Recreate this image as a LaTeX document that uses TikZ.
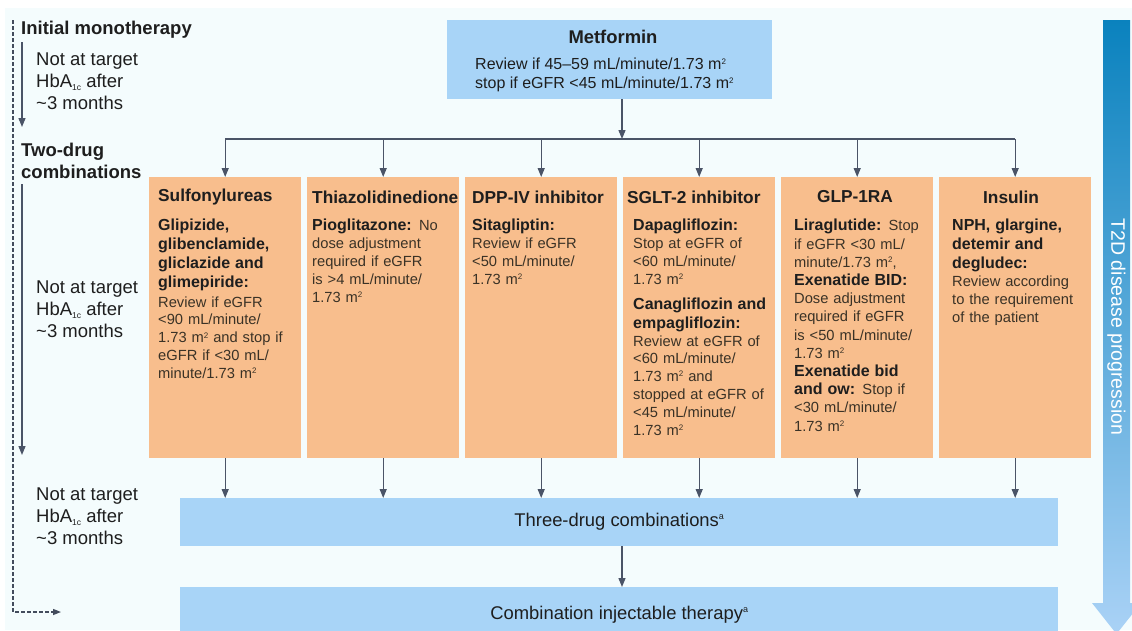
\documentclass[tikz,border=0pt]{standalone}
\usepackage{fontspec}
\setmainfont{Liberation Sans}
\usetikzlibrary{arrows.meta}

\definecolor{bgcyan}{HTML}{F4FCFD}
\definecolor{boxblue}{HTML}{A8D4F7}
\definecolor{drugpeach}{HTML}{F8BE8D}
\definecolor{flowgray}{HTML}{4A5467}
\definecolor{progtop}{HTML}{0A82BE}
\definecolor{progbot}{HTML}{AAD2F6}
\definecolor{inkdark}{HTML}{1E1E1E}
\definecolor{inkbody}{HTML}{3A3226}

\newcommand{\sqm}{m\raisebox{0.6ex}{\fontsize{8}{8}\selectfont 2}}
\newcommand{\hba}{HbA\raisebox{-0.3ex}{\fontsize{8.5}{8.5}\selectfont 1c}}
\newcommand{\supa}{\raisebox{0.75ex}{\fontsize{9}{9}\selectfont a}}
\newcommand{\subbf}{\fontsize{16}{19}\selectfont\bfseries\color{inkdark}}

\begin{document}
\begin{tikzpicture}[x=1pt, y=-1pt,
    drugbox/.style={fill=drugpeach, minimum width=152pt, minimum height=281pt, inner sep=0pt, anchor=north west},
    bluebox/.style={fill=boxblue, inner sep=0pt, anchor=north west, text=inkdark, font=\fontsize{18.4}{22}\selectfont},
    flowline/.style={draw=flowgray, line width=1.3pt},
    flow/.style={flowline, -{Triangle[length=9pt, width=7pt]}},
    drughead/.style={anchor=west, inner sep=0pt, text=inkdark, font=\fontsize{17.3}{20}\selectfont\bfseries},
    drugtext/.style={anchor=north west, inner sep=0pt, text width=150pt, align=left, text=inkbody, font=\fontsize{14.7}{17.8}\selectfont},
    stagetext/.style={anchor=north west, inner sep=0pt, align=left, text=inkdark, font=\fontsize{18.5}{22}\selectfont},
    stagehead/.style={stagetext, font=\fontsize{18.5}{22}\selectfont\bfseries}
]
\useasboundingbox (0,0) rectangle (1132,630);

% --- Fondo ---
\fill[bgcyan] (5,8) rectangle (1132,630);

% --- Columna izquierda (etapas) ---
\node[stagehead] (mono) at (21,21) {Initial monotherapy};
\node[stagetext] (wait1) at (36,53) {Not at target\\ \hba{} after\\ \textasciitilde3 months};
\node[stagehead] (two) at (21,143) {Two-drug\\ combinations};
\node[stagetext] (wait2) at (36,281) {Not at target\\ \hba{} after\\ \textasciitilde3 months};
\node[stagetext] (wait3) at (36,488) {Not at target\\ \hba{} after\\ \textasciitilde3 months};

\coordinate (s1a) at (22,42);
\coordinate (s1b) at (22,127);
\coordinate (s2a) at (22,184);
\coordinate (s2b) at (22,455);
\draw[flow] (s1a) -- (s1b);
\draw[flow] (s2a) -- (s2b);

% linea discontinua hasta la terapia inyectable
\coordinate (dashtop) at (13,20);
\coordinate (dashcorner) at (13,612);
\coordinate (dashend) at (61,612);
\draw[draw=flowgray!90!black, line width=1.3pt, dash pattern=on 3.5pt off 2.5pt, -{Triangle[length=8pt, width=6pt]}] (dashtop) -- (dashcorner) -- (dashend);

% --- Metformina ---
\node[bluebox, minimum width=325pt, minimum height=79pt] (met) at (447,20) {};
\node[inner sep=0pt, text=inkdark, font=\fontsize{18.4}{22}\selectfont\bfseries] (methead) at (613,37) {Metformin};
\node[anchor=north west, inner sep=0pt, align=left, text=inkdark, font=\fontsize{16}{19}\selectfont] (mettext) at (475,58)
    {Review if 45--59 mL/minute/1.73 \sqm\\ stop if eGFR <45 mL/minute/1.73 \sqm};

% --- Combinaciones de dos farmacos ---
\node[drugbox] (d1) at (149,177) {};
\node[drugbox] (d2) at (307,177) {};
\node[drugbox] (d3) at (465,177) {};
\node[drugbox] (d4) at (623,177) {};
\node[drugbox] (d5) at (781,177) {};
\node[drugbox] (d6) at (939,177) {};

\node[drughead] (h1) at (158,197) {Sulfonylureas};
\node[drughead] (h2) at (312,197) {Thiazolidinedione};
\node[drughead] (h3) at (472,197) {DPP-IV inhibitor};
\node[drughead] (h4) at (627,197) {SGLT-2 inhibitor};
\node[drughead, anchor=center] (h5) at (855,197) {GLP-1RA};
\node[drughead, anchor=center] (h6) at (1011,197) {Insulin};

\node[drugtext] (b1) at (158,219) {%
    {\subbf Glipizide,\\ glibenclamide,\\ gliclazide and\\ glimepiride:\par}\vspace{1.5pt}
    Review if eGFR\\ <90 mL/minute/\\ 1.73 \sqm{} and stop if\\ eGFR if <30 mL/\\ minute/1.73 \sqm};
\node[drugtext] (b2) at (312,219) {%
    {\subbf Pioglitazone:} No\\ dose adjustment\\ required if eGFR\\ is >4 mL/minute/\\ 1.73 \sqm};
\node[drugtext] (b3) at (472,219) {%
    {\subbf Sitagliptin:}\\ Review if eGFR\\ <50 mL/minute/\\ 1.73 \sqm};
\node[drugtext] (b4) at (633,219) {%
    {\subbf Dapagliflozin:}\\ Stop at eGFR of\\ <60 mL/minute/\\ 1.73 \sqm\par\vspace{6pt}
    {\subbf Canagliflozin and\\ empagliflozin:\par}
    Review at eGFR of\\ <60 mL/minute/\\ 1.73 \sqm{} and\\ stopped at eGFR of\\ <45 mL/minute/\\ 1.73 \sqm};
\node[drugtext, font=\fontsize{14.7}{18.2}\selectfont] (b5) at (794,219) {%
    {\subbf Liraglutide:} Stop\\ if eGFR <30 mL/\\ minute/1.73 \sqm,\\ {\subbf Exenatide BID:}\\ Dose adjustment\\
    required if eGFR\\ is <50 mL/minute/\\ 1.73 \sqm\\ {\subbf Exenatide bid}\\ {\subbf and ow:} Stop if\\
    <30 mL/minute/\\ 1.73 \sqm};
\node[drugtext] (b6) at (952,219) {%
    {\subbf NPH, glargine,\\ detemir and\\ degludec:\par}
    Review according\\ to the requirement\\ of the patient};

% --- Terapias siguientes ---
\node[bluebox, minimum width=878pt, minimum height=48pt] (three) at (180,498) {Three-drug combinations\supa};
\node[bluebox, minimum width=878pt, minimum height=56pt] (comb) at (180,587) {Combination injectable therapy\supa};

% --- Flechas ---
\coordinate (hubM) at (622,139);
\draw[flow] (met.south -| hubM) -- (hubM);
\draw[flowline] (d1.north |- hubM) -- (d6.north |- hubM);
\foreach \d in {d1,d2,d3,d4,d5,d6} {
    \draw[flow] (\d.north |- hubM) -- (\d.north);
    \draw[flow] (\d.south) -- (\d.south |- three.north);
}
\draw[flow] (three.south -| hubM) -- (comb.north -| hubM);

% --- Flecha de progresion ---
\shade[top color=progtop, bottom color=progbot] (1103,20) -- (1130,20) -- (1130,603) -- (1141,603)
    -- (1116.5,634) -- (1092,603) -- (1103,603) -- cycle;
\node[rotate=-90, inner sep=0pt, text=white, font=\fontsize{19.5}{22}\selectfont] (prog) at (1116.5,327) {T2D disease progression};

\end{tikzpicture}
\end{document}
